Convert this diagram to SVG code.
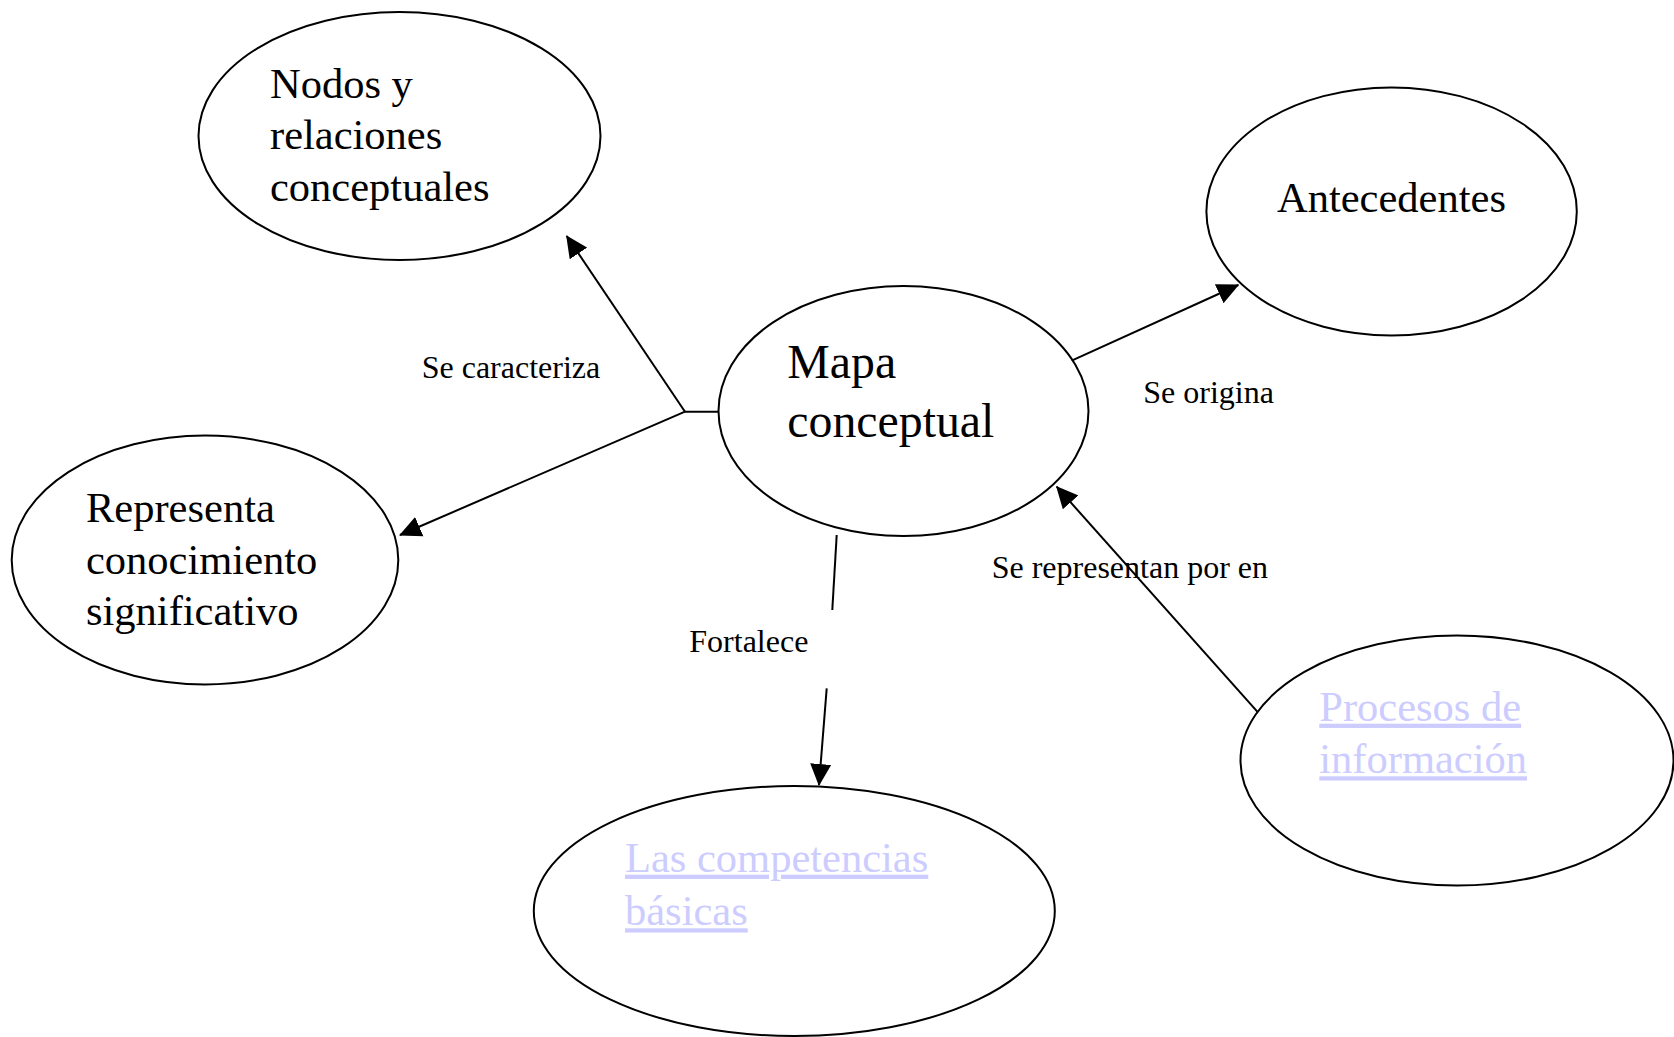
<svg xmlns="http://www.w3.org/2000/svg" width="1674" height="1037" viewBox="0 0 1674 1037">
<style>
.node{fill:#fff;stroke:#000;stroke-width:2}
.t{font-family:"Liberation Serif","Times New Roman",serif;font-size:42.5px;fill:#000}
.big{font-size:47.8px}
.lnk{fill:#ccccff;text-decoration:underline}
.lbl{font-family:"Liberation Serif","Times New Roman",serif;font-size:32px;fill:#000}
.c{stroke:#000;stroke-width:2;fill:none}
</style>
<defs>
<marker id="ah" markerUnits="userSpaceOnUse" markerWidth="22" markerHeight="22" refX="21" refY="10.5" orient="auto" viewBox="0 0 22 21">
<path d="M0,0 L22,10.5 L0,21 z" fill="#000"/>
</marker>
</defs>
<rect width="1674" height="1037" fill="#fff"/>
<g id="nodos">
<ellipse class="node" cx="399.5" cy="136" rx="201" ry="124"/>
<text class="t" x="270" y="97.7">Nodos y</text>
<text class="t" x="270" y="149.3">relaciones</text>
<text class="t" x="270" y="200.5">conceptuales</text>
</g>
<g id="antecedentes">
<ellipse class="node" cx="1391.6" cy="211.4" rx="185.2" ry="124"/>
<text class="t" x="1277" y="211.5">Antecedentes</text>
</g>
<g id="mapa">
<ellipse class="node" cx="903.5" cy="411" rx="185" ry="125"/>
<text class="t big" x="787.3" y="378.3">Mapa</text>
<text class="t big" x="787.3" y="437">conceptual</text>
</g>
<g id="representa">
<ellipse class="node" cx="205" cy="560" rx="193.3" ry="124.4"/>
<text class="t" x="86" y="521.7">Representa</text>
<text class="t" x="86" y="573.5">conocimiento</text>
<text class="t" x="86" y="625.3">significativo</text>
</g>
<g id="competencias">
<ellipse class="node" cx="794.3" cy="911" rx="260.5" ry="125"/>
<text class="t lnk" x="625" y="871.7">Las competencias</text>
<text class="t lnk" x="625" y="925.3">básicas</text>
</g>
<g id="procesos">
<ellipse class="node" cx="1457" cy="760.5" rx="216.5" ry="125"/>
<text class="t lnk" x="1319.3" y="720.7">Procesos de</text>
<text class="t lnk" x="1319.3" y="773.3">información</text>
</g>
<g id="connectors">
<line class="c" x1="718" y1="411.7" x2="685" y2="411.7"/>
<line class="c" x1="685" y1="411.7" x2="566.7" y2="236" marker-end="url(#ah)"/>
<line class="c" x1="685" y1="411.7" x2="400" y2="535" marker-end="url(#ah)"/>
<line class="c" x1="1071.7" y1="360.7" x2="1238.3" y2="285" marker-end="url(#ah)"/>
<line class="c" x1="1257.3" y1="711.7" x2="1056.7" y2="486.7" marker-end="url(#ah)"/>
<line class="c" x1="836.7" y1="535" x2="832.3" y2="610"/>
<line class="c" x1="826.7" y1="688.3" x2="819" y2="785" marker-end="url(#ah)"/>
<text class="lbl" x="421.7" y="377.7">Se caracteriza</text>
<text class="lbl" x="1143.3" y="403.3">Se origina</text>
<text class="lbl" x="991.7" y="578.3">Se representan por en</text>
<text class="lbl" x="689.3" y="651.7">Fortalece</text>
</g>
</svg>
